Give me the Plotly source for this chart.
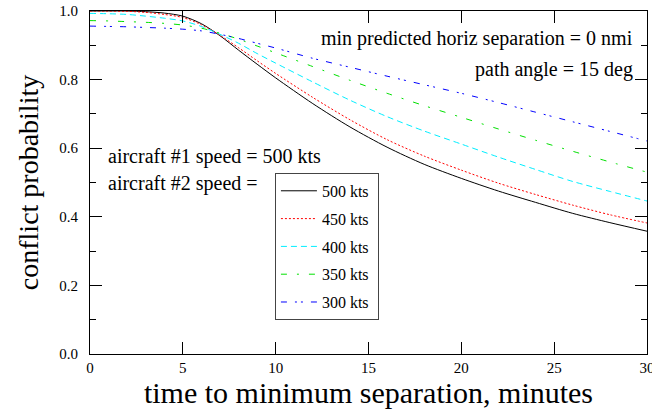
import plotly.graph_objects as go

t = [0, 1, 2, 3, 4, 5, 6, 7, 8, 9, 10, 12, 14, 16, 18, 20, 22, 24, 26, 28, 30]

p500 = [1.000, 1.000, 1.000, 0.998, 0.994, 0.985, 0.963, 0.928, 0.886, 0.845, 0.805,
        0.730, 0.662, 0.603, 0.553, 0.512, 0.475, 0.442, 0.410, 0.383, 0.358]
p450 = [1.000, 1.000, 0.999, 0.996, 0.990, 0.981, 0.960, 0.929, 0.893, 0.855, 0.818,
        0.748, 0.683, 0.625, 0.577, 0.536, 0.498, 0.465, 0.434, 0.406, 0.382]
p400 = [0.993, 0.992, 0.990, 0.985, 0.979, 0.971, 0.955, 0.932, 0.906, 0.876, 0.848,
        0.793, 0.740, 0.692, 0.650, 0.612, 0.574, 0.538, 0.503, 0.474, 0.446]
p350 = [0.972, 0.971, 0.969, 0.967, 0.964, 0.959, 0.950, 0.935, 0.918, 0.898, 0.878,
        0.838, 0.798, 0.760, 0.724, 0.690, 0.656, 0.623, 0.591, 0.560, 0.530]
p300 = [0.956, 0.955, 0.954, 0.952, 0.950, 0.947, 0.942, 0.932, 0.920, 0.906, 0.892,
        0.862, 0.836, 0.810, 0.785, 0.760, 0.733, 0.705, 0.677, 0.649, 0.621]

names = ["500 kts", "450 kts", "400 kts", "350 kts", "300 kts"]
series = [p500, p450, p400, p350, p300]
colors = ["#000000", "#ff0000", "#00eeff", "#00e000", "#0000ff"]
dashes = ["solid", "2px,2px", "6px,4px", "6px,10px,2px,10px", "6px,8px,2px,4px,2px,8px"]

FONT = "Liberation Serif, Times New Roman, serif"

fig = go.Figure()
for i, (n, s, c, d) in enumerate(zip(names, series, colors, dashes)):
    fig.add_trace(go.Scatter(
        x=t, y=s, mode="lines", name=n + "&nbsp;", legendgroup=n,
        line=dict(color=c, width=1, dash=d, shape="spline", smoothing=0.8),
    ))

fig.update_layout(
    width=652, height=412,
    margin=dict(l=90, r=5, t=11, b=58, autoexpand=False),
    paper_bgcolor="white", plot_bgcolor="white",
    font=dict(family=FONT, color="black"),
    showlegend=True,
    legend=dict(
        x=0.332, y=0.528, xanchor="left", yanchor="top",
        bgcolor="white", bordercolor="#444444", borderwidth=1,
        font=dict(family=FONT, size=16, color="black"),
        traceorder="grouped", tracegroupgap=4, itemwidth=36,
    ),
    xaxis=dict(
        range=[0, 30], tickvals=[0, 5, 10, 15, 20, 25, 30],
        ticks="inside", ticklen=12, tickwidth=1, tickcolor="black",
        showline=True, linecolor="black", linewidth=1, mirror="ticks",
        showgrid=False, zeroline=False, ticklabeloverflow="allow", automargin=False,
        tickfont=dict(family=FONT, size=15),
        title=dict(text="time to minimum separation, minutes",
                   font=dict(family=FONT, size=30), standoff=2),
    ),
    yaxis=dict(
        range=[0, 1], tickvals=[0, 0.2, 0.4, 0.6, 0.8, 1.0], tickformat=".1f",
        ticks="inside", ticklen=12, tickwidth=1, tickcolor="black",
        showline=True, linecolor="black", linewidth=1, mirror="ticks",
        showgrid=False, zeroline=False, automargin=False,
        minor=dict(dtick=0.1, ticks="inside", ticklen=6, tickcolor="black", showgrid=False),
        tickfont=dict(family=FONT, size=15),
        ticklabelstandoff=8,
        title=dict(text="conflict probability", font=dict(family=FONT, size=28), standoff=12),
    ),
)

ann_font = dict(family=FONT, size=20, color="black")
fig.add_annotation(x=0.978, y=0.92, xref="paper", yref="paper", xanchor="right", yanchor="middle",
                   text="min predicted horiz separation = 0 nmi", showarrow=False, font=ann_font)
fig.add_annotation(x=0.978, y=0.83, xref="paper", yref="paper", xanchor="right", yanchor="middle",
                   text="path angle = 15 deg", showarrow=False, font=ann_font)
fig.add_annotation(x=0.028, y=0.575, xref="paper", yref="paper", xanchor="left", yanchor="middle",
                   text="aircraft #1 speed = 500 kts", showarrow=False, font=ann_font)
fig.add_annotation(x=0.028, y=0.497, xref="paper", yref="paper", xanchor="left", yanchor="middle",
                   text="aircraft #2 speed =", showarrow=False, font=ann_font)

fig.write_html("out.html")
